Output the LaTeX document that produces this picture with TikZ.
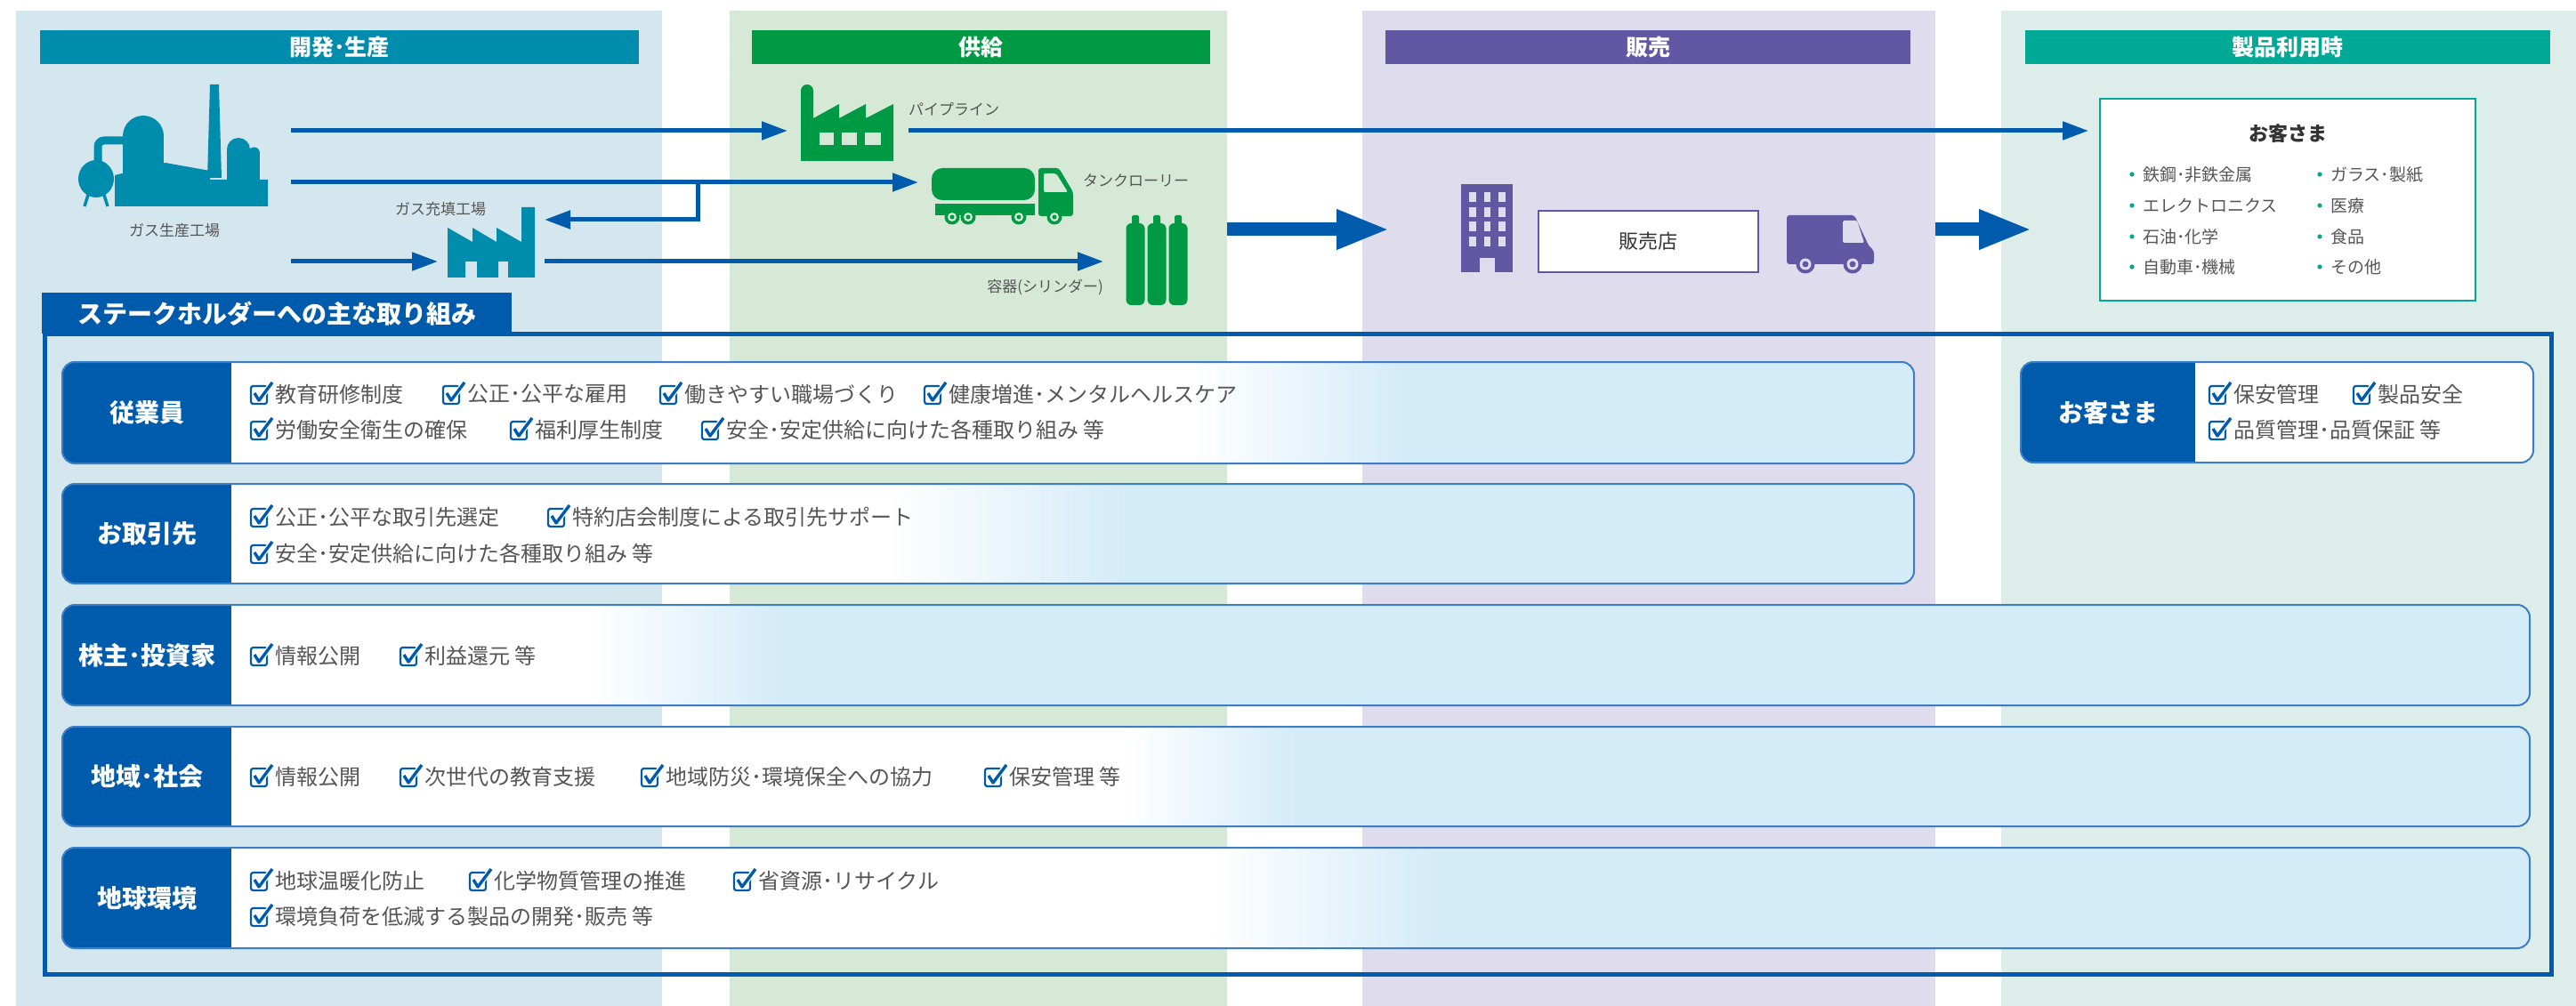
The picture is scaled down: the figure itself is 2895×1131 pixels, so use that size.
\documentclass[tikz,border=0pt]{standalone}
\usepackage{fontspec}
\setmainfont{Noto Sans CJK JP}
\usetikzlibrary{arrows.meta}

\definecolor{bgA}{RGB}{212,230,238}
\definecolor{bgB}{RGB}{214,233,214}
\definecolor{bgC}{RGB}{223,220,238}
\definecolor{bgD}{RGB}{221,237,234}
\definecolor{hdA}{RGB}{0,141,173}
\definecolor{hdB}{RGB}{0,153,68}
\definecolor{hdC}{RGB}{98,87,162}
\definecolor{hdD}{RGB}{0,168,150}
\definecolor{corp}{RGB}{0,91,172}
\definecolor{rowfill}{RGB}{212,235,248}
\definecolor{rowline}{RGB}{60,125,195}
\definecolor{txt}{RGB}{85,85,85}
\definecolor{dark}{RGB}{51,51,51}

\newcommand\fs[1]{\fontsize{#1}{#1}\selectfont}

\tikzset{
  hdr/.style={font=\fs{25}\bfseries, text=white, inner sep=0pt},
  iconlabel/.style={font=\fs{17}, text=txt, inner sep=0pt},
  item/.style={font=\fs{24}, text=txt, inner sep=0pt, anchor=west},
  bl/.style={font=\fs{19}, text=txt, inner sep=0pt, anchor=west},
  rowlab/.style={font=\fs{28}\bfseries, text=white, inner sep=0pt},
  arr/.style={draw=corp, line width=5pt, line join=miter, -{Triangle[length=29pt,width=20pt]}},
  bigarr/.style={draw=corp, line width=15pt, -{Triangle[length=60pt,width=41pt]}},
  chk/.pic={
    \draw[corp, line width=2.2pt, fill=white, rounded corners=2.5pt] (0,-9) rectangle (18,11);
    \draw[white, line width=6pt, line join=round] (4,-1) -- (9,7) -- (24,-13);
    \draw[corp, line width=3.4pt, line join=round] (4,-1) -- (9,7) -- (24,-13);
  }
}

% check-marked item: name, x, y, text
\newcommand\ck[4]{\pic at (#2,#3) {chk}; \node[item] (#1) at ({#2+27},#3) {#4};}
% bullet of the customer list: name, x, y, text
\newcommand\bul[4]{\fill[hdD] (#2,#3) circle[radius=2.6]; \node[bl] (#1) at ({#2+12},#3) {#4};}
% stakeholder row: name, left, split, top, bottom, right, fade start, fade end, label
\newcommand\strow[9]{%
  \begin{scope}
    \clip[rounded corners=14pt] (#2,#4) rectangle (#6,#5);
    \fill[rowfill] (#2,#4) rectangle (#6,#5);
    \fill[white] (#3,#4) rectangle (#7,#5);
    \shade[left color=white, right color=rowfill] (#7,#4) rectangle (#8,#5);
    \fill[corp] (#2,#4) rectangle (#3,#5);
  \end{scope}
  \draw[rowline, line width=2pt, rounded corners=14pt] (#2,#4) rectangle (#6,#5);
  \node[rowlab] (#1) at ({(#2+#3)/2},{(#4+#5)/2}) {#9};
}

\begin{document}
\begin{tikzpicture}[x=1pt, y=-1pt]
\useasboundingbox (0,0) rectangle (2895,1131);
\fill[white] (0,0) rectangle (2895,1131);

% stage columns
\fill[bgA] (18,12) rectangle (744,1131);
\fill[bgB] (820,12) rectangle (1379,1131);
\fill[bgC] (1531,12) rectangle (2175,1131);
\fill[bgD] (2249,12) rectangle (2895,1131);

% stage headers
\node[hdr, fill=hdA, minimum width=673pt, minimum height=38pt] (hA) at (381.5,53) {開発･生産};
\node[hdr, fill=hdB, minimum width=515pt, minimum height=38pt] (hB) at (1102.5,53) {供給};
\node[hdr, fill=hdC, minimum width=590pt, minimum height=38pt] (hC) at (1852,53) {販売};
\node[hdr, fill=hdD, minimum width=590pt, minimum height=38pt] (hD) at (2571,53) {製品利用時};

% gas production plant
\fill[hdA] (236,95) -- (246,95) -- (249,200) -- (233,200) -- cycle;
\fill[hdA] (138,153) rectangle (184,232);
\fill[hdA] (161,153) circle[radius=23];
\draw[hdA, line width=9pt, rounded corners=7pt] (140,158) -- (110,158) -- (110,186);
\fill[hdA] (108,201) ellipse[x radius=20, y radius=21];
\draw[hdA, line width=3.5pt] (100,216) -- (95,232) (116,216) -- (121,232);
\fill[hdA] (129,197) -- (186,183) -- (236,192) -- (236,202) -- (301,202) -- (301,232) -- (129,232) -- cycle;
\fill[hdA] (255,168) rectangle (281,232);
\fill[hdA] (268,168) circle[radius=13];
\fill[hdA] (279,172) rectangle (292,232);
\fill[hdA] (285.5,172) circle[radius=6.5];
\node[iconlabel] (capA) at (196,259) {ガス生産工場};

% gas filling plant
\fill[hdA] (503,312) -- (503,256) -- (531,272) -- (531,256) -- (558,272) -- (558,256) -- (586,272)
  -- (586,233) -- (601,233) -- (601,312) -- (571,312) -- (571,294) -- (560,294) -- (560,312)
  -- (536,312) -- (536,294) -- (523,294) -- (523,312) -- cycle;
\node[iconlabel] (capB) at (495,235) {ガス充填工場};

% supply factory
\fill[hdB] (907,102) circle[radius=7];
\fill[hdB] (900,181) -- (900,102) -- (914,102) -- (914,133) -- (943,117) -- (943,133) -- (973,117)
  -- (973,133) -- (1004,117) -- (1004,181) -- cycle;
\fill[bgB] (921,149) rectangle (937,163);
\fill[bgB] (946,149) rectangle (963,163);
\fill[bgB] (972,149) rectangle (990,163);
\node[iconlabel, anchor=west] (capC) at (1021,123) {パイプライン};

% tank lorry
\fill[hdB, rounded corners=12pt] (1047,189) rectangle (1163,225);
\fill[hdB] (1051,229) rectangle (1163,242);
\fill[hdB, rounded corners=3pt] (1167,243) -- (1167,189) -- (1190,189) -- (1206,216) -- (1206,243) -- cycle;
\fill[bgB, rounded corners=2pt] (1173,195) -- (1187,195) -- (1200,216) -- (1173,216) -- cycle;
\foreach \wx in {1070,1088,1145,1185} {
  \fill[hdB] (\wx,244) circle[radius=8.5];
  \fill[bgB] (\wx,244) circle[radius=5];
  \fill[hdB] (\wx,244) circle[radius=2.5];
}
\node[iconlabel, anchor=west] (capD) at (1217,203) {タンクローリー};

% cylinders
\foreach \cx in {1276,1300,1324} {
  \fill[hdB, rounded corners=6pt] (\cx-10.5,251) rectangle (\cx+10.5,343);
  \fill[hdB, rounded corners=1.5pt] (\cx-4,242) rectangle (\cx+4,256);
}
\node[iconlabel, anchor=east] (capE) at (1240,323) {容器(シリンダー)};

% sales office building
\fill[hdC] (1642,207) rectangle (1700,306);
\foreach \bx in {1651,1667.5,1684} {
  \foreach \by in {216,233,249,266} {
    \fill[bgC] (\bx,\by) rectangle ++(7.5,11.5);
  }
}
\fill[bgC] (1663,290) rectangle (1680,306);
\node[draw=hdC, line width=2.5pt, fill=white, minimum width=247pt, minimum height=69pt,
      font=\fs{22}, text=dark] (shop) at (1852.5,271.5) {販売店};

% delivery van
\fill[hdC, rounded corners=3pt] (2008,297) -- (2008,242) -- (2084,242) -- (2100,276) -- (2106,282) -- (2106,297) -- cycle;
\fill[bgC, rounded corners=1.5pt] (2071,248) -- (2087,248) -- (2095,273) -- (2071,273) -- cycle;
\foreach \wx in {2029,2082} {
  \fill[hdC] (\wx,297) circle[radius=10.5];
  \fill[bgC] (\wx,297) circle[radius=6.5];
  \fill[hdC] (\wx,297) circle[radius=3.5];
}

% customers
\node[draw=hdD, line width=2.5pt, fill=white, minimum width=422pt, minimum height=227pt] (cust) at (2571,224.5) {};
\node[font=\fs{22}\bfseries, text=dark, inner sep=0pt] (ctitle) at (2571,150) {お客さま};
\bul{u1}{2396}{196}{鉄鋼･非鉄金属}
\bul{u2}{2396}{231}{エレクトロニクス}
\bul{u3}{2396}{266}{石油･化学}
\bul{u4}{2396}{300}{自動車･機械}
\bul{u5}{2607}{196}{ガラス･製紙}
\bul{u6}{2607}{231}{医療}
\bul{u7}{2607}{266}{食品}
\bul{u8}{2607}{300}{その他}

% flows
\coordinate (pA) at (327,147);   \coordinate (facin) at (885,147);
\coordinate (pipeS) at (1021,147); \coordinate (custin) at (2347,147);
\coordinate (pB) at (327,205);   \coordinate (tankin) at (1032,205);
\coordinate (br) at (784,205);   \coordinate (fillin) at (612,247);
\coordinate (pC) at (327,294);   \coordinate (fillA) at (492,294);
\coordinate (fillout) at (612,294); \coordinate (cylin) at (1240,294);
\draw[arr] (pA) -- (facin);
\draw[arr] (pipeS) -- (custin);
\draw[arr] (pB) -- (tankin);
\draw[arr] (br) -- (br |- fillin) -- (fillin);
\draw[arr] (pC) -- (fillA);
\draw[arr] (fillout) -- (cylin);
\coordinate (supout) at (1379,258); \coordinate (salin) at (1562,258);
\coordinate (salout) at (2175,258); \coordinate (usein) at (2284,258);
\draw[bigarr] (supout) -- (salin);
\draw[bigarr] (salout) -- (usein);

% stakeholder frame
\draw[corp, line width=5pt] (50,375.5) rectangle (2867,1095.5);
\node[fill=corp, text=white, font=\fs{28}\bfseries, minimum width=528pt, minimum height=46pt,
      anchor=north west, inner sep=0pt] (tab) at (47,329) {ステークホルダーへの主な取り組み};

% stakeholder rows
\strow{s1}{70}{260}{407}{521}{2151}{1340}{1580}{従業員}
\ck{a1}{282}{443}{教育研修制度}
\ck{a2}{498}{443}{公正･公平な雇用}
\ck{a3}{742}{443}{働きやすい職場づくり}
\ck{a4}{1039}{443}{健康増進･メンタルヘルスケア}
\ck{a5}{282}{483}{労働安全衛生の確保}
\ck{a6}{574}{483}{福利厚生制度}
\ck{a7}{789}{483}{安全･安定供給に向けた各種取り組み 等}

\strow{s2}{70}{260}{544}{656}{2151}{995}{1267}{お取引先}
\ck{b1}{282}{581}{公正･公平な取引先選定}
\ck{b2}{616}{581}{特約店会制度による取引先サポート}
\ck{b3}{282}{622}{安全･安定供給に向けた各種取り組み 等}

\strow{s3}{70}{260}{680}{793}{2843}{663}{879}{株主･投資家}
\ck{c1}{282}{737}{情報公開}
\ck{c2}{450}{737}{利益還元 等}

\strow{s4}{70}{260}{817}{929}{2843}{1265}{1460}{地域･社会}
\ck{d1}{282}{873}{情報公開}
\ck{d2}{450}{873}{次世代の教育支援}
\ck{d3}{721}{873}{地域防災･環境保全への協力}
\ck{d4}{1107}{873}{保安管理 等}

\strow{s5}{70}{260}{953}{1066}{2843}{1362}{1615}{地球環境}
\ck{e1}{282}{990}{地球温暖化防止}
\ck{e2}{528}{990}{化学物質管理の推進}
\ck{e3}{825}{990}{省資源･リサイクル}
\ck{e4}{282}{1030}{環境負荷を低減する製品の開発･販売 等}

\strow{s6}{2271}{2467}{407}{520}{2847}{2847}{2847}{お客さま}
\ck{f1}{2483}{443}{保安管理}
\ck{f2}{2645}{443}{製品安全}
\ck{f3}{2483}{483}{品質管理･品質保証 等}
\end{tikzpicture}
\end{document}
